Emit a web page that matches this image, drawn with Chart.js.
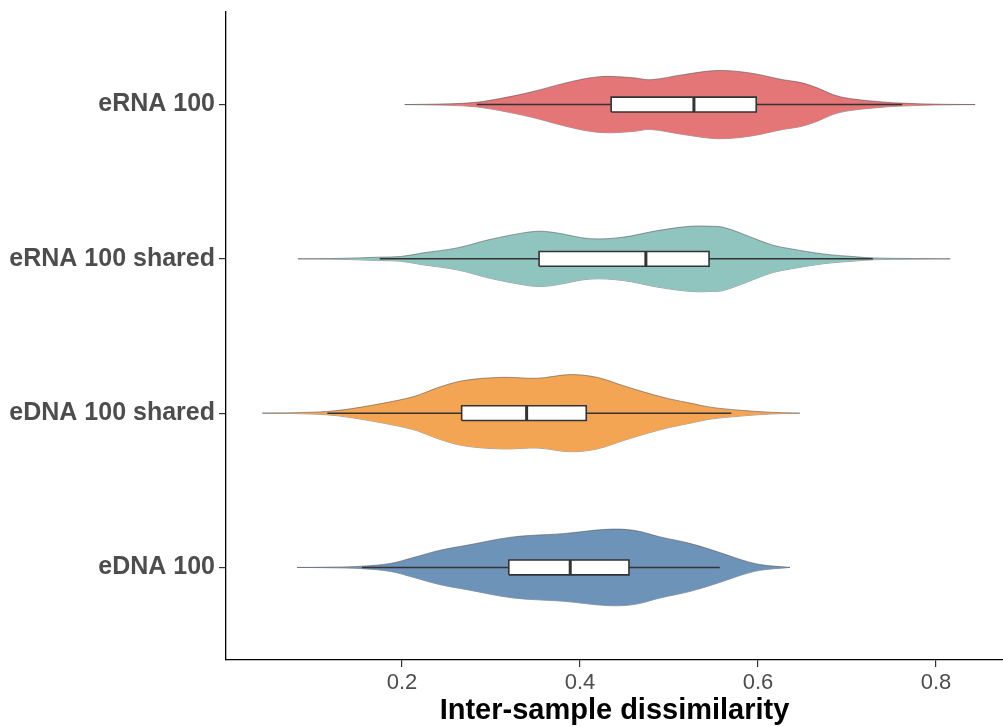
<!DOCTYPE html>
<html>
<head>
<meta charset="utf-8">
<script src="https://cdn.jsdelivr.net/npm/chart.js@4.4.1/dist/chart.umd.min.js"></script>
<style>
  body { margin: 0; background: #fff; }
  #wrap { width: 1003px; height: 727px; position: relative; }
</style>
</head>
<body>
<div id="wrap"><canvas id="violinChart"></canvas></div>
<script>
// categories from bottom (1) to top (4)
const categories = ['eDNA 100', 'eDNA 100 shared', 'eRNA 100 shared', 'eRNA 100'];

// violin outlines: dissimilarity value and half-width (in category units)
const ednaX = [0.082, 0.119, 0.155, 0.187, 0.212, 0.243, 0.273, 0.325, 0.381, 0.430, 0.460, 0.490, 0.524, 0.557, 0.580, 0.602, 0.636];
const ednaW = [0, 0.002, 0.008, 0.026, 0.063, 0.112, 0.144, 0.198, 0.219, 0.247, 0.241, 0.198, 0.155, 0.097, 0.052, 0.019, 0];

const ednaSharedX = [0.043, 0.080, 0.116, 0.142, 0.190, 0.217, 0.239, 0.269, 0.313, 0.352, 0.389, 0.419, 0.448, 0.479, 0.501, 0.524, 0.546, 0.580, 0.613, 0.647];
const ednaSharedW = [0, 0.003, 0.011, 0.028, 0.077, 0.114, 0.163, 0.211, 0.232, 0.226, 0.250, 0.232, 0.179, 0.125, 0.092, 0.065, 0.039, 0.019, 0.006, 0];

const ernaSharedX = [0.083, 0.130, 0.175, 0.198, 0.224, 0.262, 0.299, 0.336, 0.355, 0.374, 0.411, 0.448, 0.487, 0.524, 0.549, 0.561, 0.580, 0.599, 0.617, 0.636, 0.673, 0.711, 0.729, 0.760, 0.816];
const ernaSharedW = [0, 0.003, 0.011, 0.015, 0.039, 0.071, 0.126, 0.168, 0.179, 0.168, 0.131, 0.140, 0.183, 0.211, 0.211, 0.205, 0.168, 0.125, 0.088, 0.066, 0.032, 0.013, 0.006, 0.003, 0];

const ernaX = [0.203, 0.254, 0.284, 0.310, 0.347, 0.385, 0.422, 0.460, 0.479, 0.516, 0.554, 0.591, 0.628, 0.647, 0.666, 0.684, 0.703, 0.740, 0.760, 0.797, 0.844];
const ernaW = [0, 0.005, 0.015, 0.039, 0.084, 0.142, 0.181, 0.174, 0.161, 0.194, 0.221, 0.205, 0.161, 0.144, 0.110, 0.065, 0.039, 0.017, 0.010, 0.003, 0];

// boxplot stats, same order as categories
const whiskerLow  = [0.155, 0.116, 0.175, 0.284];
const q1          = [0.320, 0.267, 0.354, 0.435];
const medians     = [0.389, 0.340, 0.474, 0.528];
const q3          = [0.455, 0.407, 0.545, 0.598];
const whiskerHigh = [0.557, 0.570, 0.729, 0.762];

const xTicks = [0.2, 0.4, 0.6, 0.8];

const violinColors = ['#6E93B8', '#F4A553', '#8FC4BF', '#E57678'];
const BOX_HALF = 0.048;

const violins = [[ednaX, ednaW], [ednaSharedX, ednaSharedW], [ernaSharedX, ernaSharedW], [ernaX, ernaW]];

const datasets = [];
violins.forEach(([xs, ws], i) => {
    const c = i + 1;
    datasets.push({
        data: xs.map((x, k) => ({ x: x, y: c + ws[k] })),
        fill: '+1',
        backgroundColor: violinColors[i],
        borderColor: 'rgba(70,70,70,0.75)',
        borderWidth: 0.7,
        tension: 0.35,
        order: 3
    });
    datasets.push({
        data: xs.map((x, k) => ({ x: x, y: c - ws[k] })),
        fill: false,
        borderColor: 'rgba(70,70,70,0.75)',
        borderWidth: 0.7,
        tension: 0.35,
        order: 3
    });
});

categories.forEach((name, i) => {
    const c = i + 1;
    // whisker
    datasets.push({
        data: [{ x: whiskerLow[i], y: c }, { x: whiskerHigh[i], y: c }],
        borderColor: '#333333',
        borderWidth: 1.5,
        fill: false,
        order: 2
    });
    // box
    datasets.push({
        data: [
            { x: q1[i], y: c - BOX_HALF }, { x: q3[i], y: c - BOX_HALF },
            { x: q3[i], y: c + BOX_HALF }, { x: q1[i], y: c + BOX_HALF },
            { x: q1[i], y: c - BOX_HALF }
        ],
        borderColor: '#333333',
        borderWidth: 1.6,
        backgroundColor: '#ffffff',
        fill: 'shape',
        borderJoinStyle: 'miter',
        order: 1
    });
    // median
    datasets.push({
        data: [{ x: medians[i], y: c - BOX_HALF }, { x: medians[i], y: c + BOX_HALF }],
        borderColor: '#333333',
        borderWidth: 3,
        fill: false,
        borderCapStyle: 'butt',
        order: 0
    });
});

const ctx = document.getElementById('violinChart').getContext('2d');
new Chart(ctx, {
    type: 'scatter',
    data: { datasets: datasets },
    options: {
        responsive: true,
        maintainAspectRatio: false,
        animation: false,
        showLine: true,
        elements: { point: { radius: 0, hoverRadius: 0 } },
        layout: { padding: { top: 12, right: 0, left: 0, bottom: 0 } },
        plugins: {
            legend: { display: false },
            tooltip: { enabled: false }
        },
        scales: {
            x: {
                type: 'linear',
                min: 0.0022,
                max: 0.8753,
                afterBuildTicks: axis => { axis.ticks = xTicks.map(v => ({ value: v })); },
                afterFit: axis => {
                    axis.height = 67;
                    axis.paddingLeft = 0;
                    axis.paddingRight = 0;
                },
                ticks: {
                    color: '#4D4D4D',
                    font: { family: 'Liberation Sans, Arial', size: 22 },
                    padding: 3,
                    maxRotation: 0,
                    callback: v => v.toFixed(1)
                },
                grid: { drawOnChartArea: false, tickLength: 7, color: '#333333', lineWidth: 1.2 },
                border: { color: '#000000', width: 1.3 },
                title: {
                    display: true,
                    text: 'Inter-sample dissimilarity',
                    color: '#000000',
                    font: { family: 'Liberation Sans, Arial', size: 29, weight: 'bold' },
                    padding: { top: 0, bottom: -1 }
                }
            },
            y: {
                type: 'linear',
                min: 0.4,
                max: 4.6,
                afterBuildTicks: axis => { axis.ticks = categories.map((c, i) => ({ value: i + 1 })); },
                afterFit: axis => {
                    axis.width = 226;
                    axis.paddingTop = 0;
                    axis.paddingBottom = 0;
                },
                ticks: {
                    color: '#4D4D4D',
                    font: { family: 'Liberation Sans, Arial', size: 25, weight: 'bold' },
                    padding: 4,
                    callback: v => categories[v - 1]
                },
                grid: { drawOnChartArea: false, tickLength: 7, color: '#333333', lineWidth: 1.2 },
                border: { color: '#000000', width: 1.3 }
            }
        }
    }
});
</script>
</body>
</html>
